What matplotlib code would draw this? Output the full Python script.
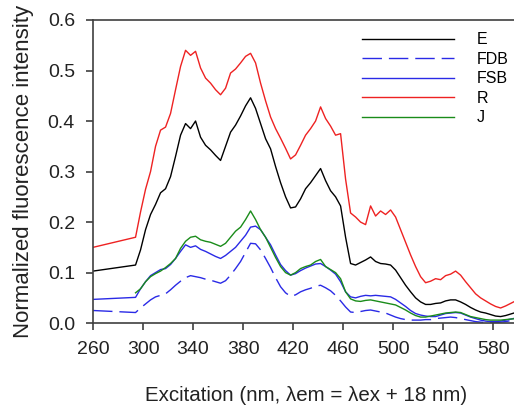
import numpy as np
import matplotlib
matplotlib.use('Agg')
import matplotlib.pyplot as plt

plt.rcParams['font.family'] = ['Liberation Sans', 'DejaVu Sans']

# excitation wavelength (nm); 260 is the first point, then a gap to 294
wl = [260] + list(range(294, 599, 4))

E = [0.103, 0.115, 0.145, 0.185, 0.215, 0.235, 0.258, 0.266, 0.290, 0.330, 0.372,
     0.395, 0.385, 0.400, 0.368, 0.352, 0.343, 0.332, 0.322, 0.350, 0.378, 0.392,
     0.410, 0.430, 0.446, 0.425, 0.395, 0.365, 0.345, 0.310, 0.278, 0.250, 0.228,
     0.230, 0.246, 0.266, 0.278, 0.292, 0.306, 0.282, 0.262, 0.250, 0.232, 0.170,
     0.118, 0.115, 0.120, 0.125, 0.131, 0.122, 0.118, 0.117, 0.115, 0.105, 0.090,
     0.075, 0.062, 0.050, 0.042, 0.037, 0.037, 0.039, 0.040, 0.044, 0.046, 0.046,
     0.042, 0.037, 0.031, 0.026, 0.022, 0.020, 0.017, 0.014, 0.013, 0.015, 0.018,
     0.021]

FDB = [0.025, 0.021, 0.030, 0.038, 0.046, 0.052, 0.055, 0.058, 0.066, 0.075, 0.083,
       0.090, 0.094, 0.092, 0.090, 0.087, 0.085, 0.082, 0.079, 0.084, 0.095, 0.108,
       0.122, 0.140, 0.158, 0.157, 0.145, 0.128, 0.110, 0.090, 0.072, 0.060, 0.053,
       0.056, 0.062, 0.066, 0.069, 0.073, 0.075, 0.070, 0.064, 0.055, 0.044, 0.032,
       0.022, 0.021, 0.023, 0.025, 0.026, 0.024, 0.022, 0.020, 0.016, 0.012, 0.009,
       0.007, 0.006, 0.006, 0.006, 0.007, 0.007, 0.009, 0.010, 0.011, 0.012, 0.011,
       0.009, 0.007, 0.005, 0.003, 0.002, 0.001, 0.001, 0.001, 0.002, 0.003, 0.005,
       0.006]

FSB = [0.047, 0.051, 0.068, 0.082, 0.094, 0.100, 0.106, 0.108, 0.116, 0.128, 0.142,
       0.155, 0.150, 0.153, 0.146, 0.142, 0.137, 0.132, 0.128, 0.134, 0.142, 0.150,
       0.162, 0.174, 0.190, 0.192, 0.185, 0.170, 0.155, 0.135, 0.116, 0.104, 0.095,
       0.098, 0.104, 0.109, 0.113, 0.117, 0.118, 0.112, 0.105, 0.097, 0.082, 0.062,
       0.052, 0.050, 0.053, 0.055, 0.054, 0.055, 0.054, 0.053, 0.052, 0.047, 0.040,
       0.033, 0.025, 0.019, 0.016, 0.014, 0.013, 0.013, 0.016, 0.019, 0.020, 0.021,
       0.020, 0.016, 0.012, 0.009, 0.006, 0.004, 0.003, 0.003, 0.004, 0.006, 0.008,
       0.010]

R = [0.150, 0.170, 0.220, 0.265, 0.300, 0.350, 0.382, 0.388, 0.415, 0.462, 0.508,
     0.540, 0.530, 0.538, 0.505, 0.485, 0.475, 0.462, 0.452, 0.465, 0.495, 0.503,
     0.515, 0.528, 0.534, 0.515, 0.475, 0.440, 0.408, 0.385, 0.366, 0.346, 0.325,
     0.333, 0.352, 0.372, 0.385, 0.400, 0.428, 0.405, 0.390, 0.372, 0.375, 0.285,
     0.218, 0.210, 0.200, 0.195, 0.232, 0.212, 0.222, 0.215, 0.224, 0.210, 0.185,
     0.160, 0.135, 0.112, 0.092, 0.080, 0.083, 0.088, 0.086, 0.094, 0.097, 0.103,
     0.095, 0.082, 0.070, 0.058, 0.050, 0.044, 0.038, 0.033, 0.030, 0.034, 0.039,
     0.044]

# J has no point at 260
J = [np.nan, 0.060, 0.068, 0.082, 0.092, 0.098, 0.103, 0.110, 0.118, 0.128, 0.148,
     0.162, 0.170, 0.172, 0.165, 0.162, 0.160, 0.156, 0.152, 0.158, 0.170, 0.182,
     0.190, 0.205, 0.222, 0.205, 0.185, 0.170, 0.150, 0.130, 0.112, 0.100, 0.095,
     0.100, 0.108, 0.112, 0.115, 0.122, 0.126, 0.112, 0.106, 0.100, 0.088, 0.062,
     0.048, 0.044, 0.043, 0.045, 0.046, 0.044, 0.042, 0.040, 0.038, 0.036, 0.031,
     0.026, 0.020, 0.015, 0.012, 0.012, 0.014, 0.016, 0.018, 0.020, 0.021, 0.022,
     0.021, 0.017, 0.013, 0.011, 0.009, 0.007, 0.006, 0.006, 0.006, 0.007, 0.008,
     0.009]

fig = plt.figure(figsize=(5.14, 4.08), dpi=100)
ax = fig.add_axes([0.181, 0.208, 0.827, 0.743])

ax.plot(wl, E, color='black', lw=1.0, label='E')
ax.plot(wl, FDB, color='#2a2ae6', lw=1.0, ls=(0, (14, 5)), label='FDB')
ax.plot(wl, FSB, color='#2a2ae6', lw=1.0, label='FSB')
ax.plot(wl, R, color='#ee2222', lw=1.0, label='R')
ax.plot(wl, J, color='#1a8c1a', lw=1.0, label='J')

ax.set_xlim(260, 600)
ax.set_ylim(0, 0.6)
ax.set_xticks(range(260, 581, 40))
ax.set_yticks(np.arange(0, 0.61, 0.1))
ax.set_yticklabels([f'{v:.1f}' for v in np.arange(0, 0.61, 0.1)])

for s in ['left', 'bottom', 'top']:
    ax.spines[s].set_color('#404040')
    ax.spines[s].set_linewidth(1.2)
ax.spines['right'].set_visible(False)
ax.tick_params(direction='out', length=5, width=1.2, color='#404040',
               labelsize=14, labelcolor='#222222', pad=8)

ax.set_xlabel('Excitation (nm, λem = λex + 18 nm)', fontsize=14.8, color='#222222', labelpad=20)
ax.set_ylabel('Normalized fluorescence intensity', fontsize=16, color='#222222', labelpad=10)

leg = ax.legend(loc='upper left', bbox_to_anchor=(0.704, 0.921),
                bbox_transform=fig.transFigure, frameon=False, fontsize=11.5,
                handlelength=5.75, handletextpad=1.45, labelspacing=0.28,
                borderpad=0, borderaxespad=0)

plt.savefig('out.png', dpi=100)
